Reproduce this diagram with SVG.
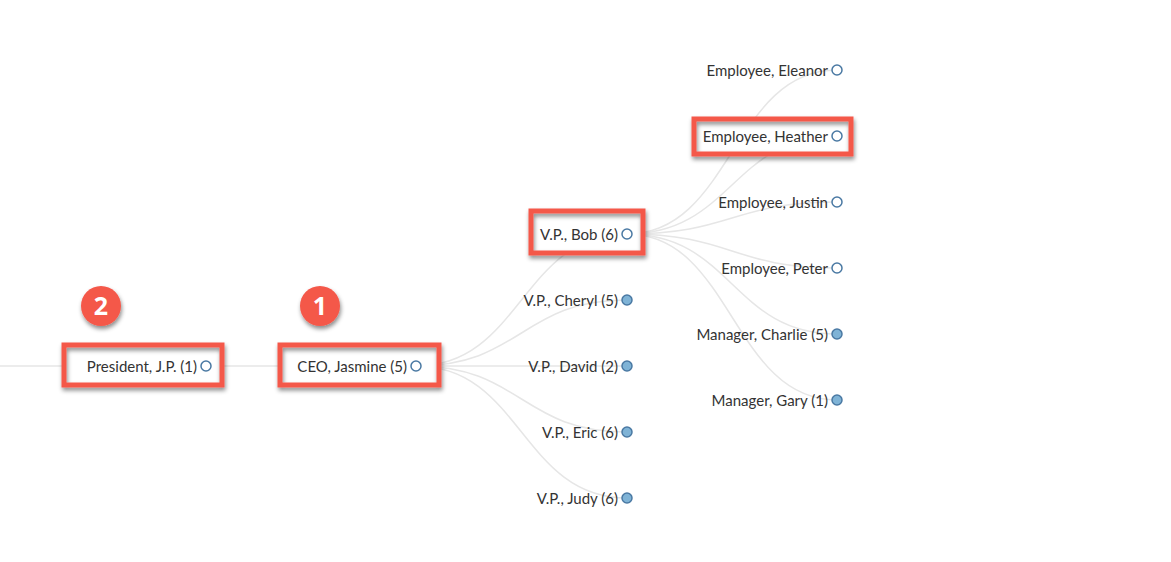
<svg xmlns="http://www.w3.org/2000/svg" width="1171" height="562" viewBox="0 0 1171 562">
<defs>
<style>
.link{fill:none;stroke:#e6e6e6;stroke-width:1.5}
.lbl{font-family:Lato,"Open Sans","Liberation Sans",sans-serif;font-size:15px;fill:#333;text-anchor:end}
.open{fill:#fff;stroke:#4a79a3;stroke-width:1.5}
.full{fill:#7fb3d6;stroke:#4a79a3;stroke-width:1.5}
.hl{fill:none;stroke:#f4584a;stroke-width:5}
.badge{fill:#f4584a}
.btxt{font-family:"Open Sans","Liberation Sans",sans-serif;font-size:25px;font-weight:bold;fill:#fff;text-anchor:middle}
</style>
<filter id="sh" x="-20%" y="-20%" width="140%" height="150%">
<feDropShadow dx="1" dy="3" stdDeviation="2" flood-color="#000" flood-opacity="0.45"/>
</filter>
</defs>
<rect width="1171" height="562" fill="#fff"/>
<g id="connectors">
<path class="link" d="M0,366 L206,366"/>
<path class="link" d="M206,366 L416,366"/>
<path class="link" d="M416,366 C521.5,366 521.5,234 627,234"/>
<path class="link" d="M416,366 C521.5,366 521.5,300 627,300"/>
<path class="link" d="M416,366 L627,366"/>
<path class="link" d="M416,366 C521.5,366 521.5,432 627,432"/>
<path class="link" d="M416,366 C521.5,366 521.5,498 627,498"/>
<path class="link" d="M627,234 C732,234 732,70 837,70"/>
<path class="link" d="M627,234 C732,234 732,136 837,136"/>
<path class="link" d="M627,234 C732,234 732,202 837,202"/>
<path class="link" d="M627,234 C732,234 732,268 837,268"/>
<path class="link" d="M627,234 C732,234 732,334 837,334"/>
<path class="link" d="M627,234 C732,234 732,400 837,400"/>
</g>
<g id="node-president"><rect x="64" y="345" width="158" height="40" fill="#fff"/><text class="lbl" x="197" y="372">President, J.P. (1)</text><circle class="open" cx="206" cy="366" r="5"/><rect class="hl" x="64" y="345" width="158" height="40" filter="url(#sh)"/></g>
<g id="node-ceo"><rect x="280" y="345" width="159" height="40" fill="#fff"/><text class="lbl" x="407" y="372">CEO, Jasmine (5)</text><circle class="open" cx="416" cy="366" r="5"/><rect class="hl" x="280" y="345" width="159" height="40" filter="url(#sh)"/></g>
<g id="node-bob"><rect x="531" y="211" width="112" height="42" fill="#fff"/><text class="lbl" x="618" y="240">V.P., Bob (6)</text><circle class="open" cx="627" cy="234" r="5"/><rect class="hl" x="531" y="211" width="112" height="42" filter="url(#sh)"/></g>
<g id="node-cheryl"><text class="lbl" x="618" y="306">V.P., Cheryl (5)</text><circle class="full" cx="627" cy="300" r="5"/></g>
<g id="node-david"><text class="lbl" x="618" y="372">V.P., David (2)</text><circle class="full" cx="627" cy="366" r="5"/></g>
<g id="node-eric"><text class="lbl" x="618" y="438">V.P., Eric (6)</text><circle class="full" cx="627" cy="432" r="5"/></g>
<g id="node-judy"><text class="lbl" x="618" y="504">V.P., Judy (6)</text><circle class="full" cx="627" cy="498" r="5"/></g>
<g id="node-eleanor"><text class="lbl" x="828" y="76">Employee, Eleanor</text><circle class="open" cx="837" cy="70" r="5"/></g>
<g id="node-heather"><rect x="694" y="119" width="157" height="35" fill="#fff"/><text class="lbl" x="828" y="142">Employee, Heather</text><circle class="open" cx="837" cy="136" r="5"/><rect class="hl" x="694" y="119" width="157" height="35" filter="url(#sh)"/></g>
<g id="node-justin"><text class="lbl" x="828" y="208">Employee, Justin</text><circle class="open" cx="837" cy="202" r="5"/></g>
<g id="node-peter"><text class="lbl" x="828" y="274">Employee, Peter</text><circle class="open" cx="837" cy="268" r="5"/></g>
<g id="node-charlie"><text class="lbl" x="828" y="340">Manager, Charlie (5)</text><circle class="full" cx="837" cy="334" r="5"/></g>
<g id="node-gary"><text class="lbl" x="828" y="406">Manager, Gary (1)</text><circle class="full" cx="837" cy="400" r="5"/></g>
<g id="badge-2"><circle class="badge" cx="101" cy="306" r="20" filter="url(#sh)"/><text class="btxt" x="101" y="315">2</text></g>
<g id="badge-1"><circle class="badge" cx="320" cy="306" r="20" filter="url(#sh)"/><text class="btxt" x="320" y="315">1</text></g>
</svg>
